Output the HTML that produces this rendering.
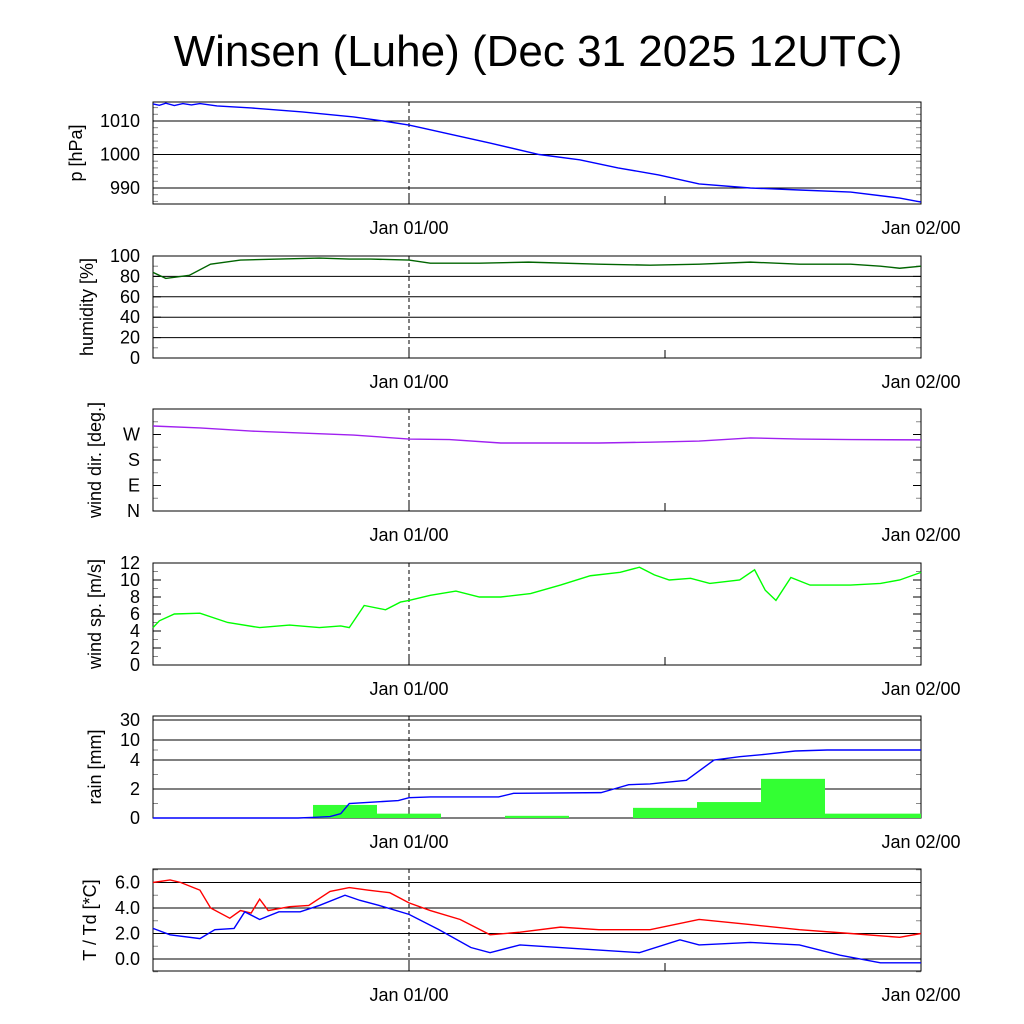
<!DOCTYPE html>
<html><head><meta charset="utf-8"><style>
html,body{margin:0;padding:0;background:#fff;}
svg{display:block;font-family:"Liberation Sans",sans-serif;}
</style></head><body>
<svg id="c" width="1024" height="1024" viewBox="0 0 1024 1024">
<text x="538" y="66" font-size="44" text-anchor="middle">Winsen (Luhe) (Dec 31 2025 12UTC)</text>
</svg>
<script>
// time in hours from Dec 31 12UTC
const xLabels = ["Jan 01/00", "Jan 02/00"];
const xLabelHours = [12, 36];
const pHours = [0,0.3,0.6,1,1.4,1.8,2.2,3,4.6,7,9.4,10.8,12,13.9,15.8,18.1,20,21.8,23.7,25.6,28,30.3,32.7,35,36];
const pVals = [1015.1,1014.7,1015.3,1014.6,1015.2,1014.8,1015.2,1014.5,1013.9,1012.7,1011.2,1010,1008.8,1006.1,1003.4,1000,998.4,996,993.9,991.2,990,989.4,988.8,987,985.8];
const hHours = [0,0.6,1.7,2.7,4.1,5.9,7.8,9.2,10.2,12,13,15.3,17.6,20.9,23.3,25.6,28,30.3,32.7,34.1,35,36];
const hVals = [84,78,81,92,96,97,98,97,97,96,93,93,94,92,91,92,94,92,92,90,88,90];
const dHours = [0,2.2,4.6,7,9.4,12,13.9,16.3,20.9,23.3,25.6,28,30.3,32.7,36];
const dVals = [300,293,282,275,268,254,252,240,240,243,247,258,254,252,251];
const wHours = [0,0.3,1,2.2,3.5,5,6.4,7.8,8.8,9.2,9.9,10.9,11.6,12,13,14.2,15.3,16.3,17.7,19.1,20.5,21.9,22.8,23.5,24.2,25.2,26.1,27.5,28.2,28.7,29.2,29.9,30.8,32.7,34.1,35,36];
const wVals = [4.4,5.2,6,6.1,5,4.4,4.7,4.4,4.6,4.4,7,6.5,7.4,7.6,8.2,8.7,8,8,8.4,9.4,10.5,10.9,11.5,10.6,10,10.2,9.6,10,11.2,8.8,7.6,10.3,9.4,9.4,9.6,10,10.9];
const rainBarHours = [9,12,15,18,21,24,27,30,33,36];
const rainBarWidths = [3,3,3,3,3,3,3,3,3,1.5];
const rainBarVals = [0.9,0.3,0,0.15,0,0.7,1.1,2.7,0.3,0.3];
const rHours = [0,6.8,7.6,8.3,8.8,9.2,11.5,12,13,16.2,16.9,21,21.6,22.3,23.3,25,26.3,27.5,28.7,30.1,31.6,36];
const rVals = [0,0,0.05,0.1,0.3,1.0,1.2,1.4,1.45,1.45,1.7,1.75,2.0,2.3,2.35,2.6,4,5,5.7,6.7,7,7];
const tHours = [0,0.8,1.3,2.2,2.7,3.6,4.1,4.6,5,5.4,6.4,7.3,8.3,9.2,10.1,11.1,12,13,14.4,15.8,17.2,19.1,20.9,23.3,25.6,28,30.3,32.7,35,36];
const tVals = [6.0,6.2,6.0,5.4,4.0,3.2,3.8,3.6,4.7,3.8,4.1,4.2,5.3,5.6,5.4,5.2,4.4,3.8,3.1,1.9,2.1,2.5,2.3,2.3,3.1,2.7,2.3,2.0,1.7,2.0];
const tdHours = [0,0.8,2.2,2.9,3.8,4.3,5,5.9,6.9,7.8,9,9.7,10.6,12,13.4,14.9,15.8,17.2,19.1,20.9,22.8,24.7,25.6,28,30.3,32.2,34.1,36];
const tdVals = [2.4,1.9,1.6,2.3,2.4,3.7,3.1,3.7,3.7,4.2,5.0,4.6,4.2,3.5,2.3,0.9,0.5,1.1,0.9,0.7,0.5,1.5,1.1,1.3,1.1,0.3,-0.3,-0.3];

const NS="http://www.w3.org/2000/svg";
const svg=document.getElementById('c');
const X0=153,X1=921;
const xs=h=>X0+(h/36)*(X1-X0);
function mk(tag,attrs,parent){const e=document.createElementNS(NS,tag);for(const k in attrs)e.setAttribute(k,attrs[k]);(parent||svg).appendChild(e);return e;}

function panel(name,top,bottom,yfun,ticks,labels,grid,ylabel,minor,tx0){
  const g=mk('g',{});
  
  
  if(grid){ticks.forEach(t=>{const y=yfun(t);const l=mk('line',{x1:X0,x2:X1,y1:y,y2:y,stroke:'#000','stroke-width':1},g);
    });}
  minor.forEach(v=>{const y=yfun(v);mk('line',{x1:X0,x2:X0+5,y1:y,y2:y,stroke:'#888'},g);mk('line',{x1:X1-5,x2:X1,y1:y,y2:y,stroke:'#888'},g);});
  ticks.forEach((t,i)=>{const y=yfun(t);
    mk('line',{x1:X0,x2:X0+8,y1:y,y2:y,stroke:'#000'},g);mk('line',{x1:X1-8,x2:X1,y1:y,y2:y,stroke:'#000'},g);
    const tx=mk('text',{x:140,y:y+6,'font-size':18,'text-anchor':'end'},g);tx.textContent=labels[i];
    });
  const d=mk('line',{x1:xs(12),x2:xs(12),y1:top,y2:bottom,stroke:'#000','stroke-dasharray':'4,3'},g);
  
  mk('line',{x1:xs(12),x2:xs(12),y1:bottom-8,y2:bottom,stroke:'#000'},g);
  mk('line',{x1:xs(24),x2:xs(24),y1:bottom-8,y2:bottom,stroke:'#000'},g);
  const r=mk('rect',{x:X0,y:top,width:X1-X0,height:bottom-top,fill:'none',stroke:'#000','stroke-width':1},g);
  
  xLabels.forEach((s,i)=>{const t=mk('text',{x:xs(xLabelHours[i]),y:bottom+30,'font-size':18,'text-anchor':'middle'},g);t.textContent=s;
    });
  const cy=(top+bottom)/2;
  const yl=mk('text',{x:tx0,y:cy,'font-size':18,'text-anchor':'middle',transform:`rotate(-90 ${tx0} ${cy})`},g);yl.textContent=ylabel;
  
  return g;
}
function line(g,name,hs,vs,yfun,color){
  const p=mk('polyline',{points:hs.map((h,i)=>xs(h)+','+yfun(vs[i])).join(' '),fill:'none',stroke:color,'stroke-width':1.4},g);
  
}
const range=(a,b,s)=>{const r=[];for(let v=a;v<=b+1e-9;v+=s)r.push(v);return r;};

const yP=v=>121+(1010-v)*3.35;
let g=panel('pressure',102,204,yP,[990,1000,1010],['990','1000','1010'],true,'p [hPa]',range(986,1014,2),82);
line(g,'pressure-line',pHours,pVals,yP,'#0000ff');
const yH=v=>358-v*1.02;
g=panel('humidity',256,358,yH,[0,20,40,60,80,100],['0','20','40','60','80','100'],true,'humidity [%]',range(10,90,20),93);
line(g,'humidity-line',hHours,hVals,yH,'#006400');
const yD=v=>511-v/90*25.5;
g=panel('wind-dir',409,511,yD,[0,90,180,270],['N','E','S','W'],false,'wind dir. [deg.]',[45,135,225,315],101);
line(g,'wind-direction-line',dHours,dVals,yD,'#a020f0');
const yW=v=>665-v*8.5;
g=panel('wind-speed',563,665,yW,[0,2,4,6,8,10,12],['0','2','4','6','8','10','12'],false,'wind sp. [m/s]',range(1,11,2),101);
line(g,'wind-speed-line',wHours,wVals,yW,'#00ff00');
const rK=[0,2,4,10,30],rY=[818,789,760,740,720];
const yR=v=>{for(let i=1;i<rK.length;i++){if(v<=rK[i])return rY[i-1]+(v-rK[i-1])/(rK[i]-rK[i-1])*(rY[i]-rY[i-1]);}return 716;};
g=panel('rain',716,818,yR,[0,2,4,10,30],['0','2','4','10','30'],true,'rain [mm]',[1,3,7],101);
rainBarHours.forEach((h,i)=>{const w=rainBarWidths[i];const x0=xs(h-1.5),x1=Math.min(X1,xs(h-1.5+w));const y=yR(rainBarVals[i]);
  const b=mk('rect',{x:x0,y:y,width:x1-x0,height:818-y,fill:'#33ff33'},g);
  });
line(g,'cumulative-rain-line',rHours,rVals,yR,'#0000ff');
const yT=v=>959-v*12.75;
g=panel('temperature',869,971,yT,[0,2,4,6],['0.0','2.0','4.0','6.0'],true,'T / Td [*C]',[-1,1,3,5,7],96);
line(g,'temperature-line',tHours,tVals,yT,'#ff0000');
line(g,'dewpoint-line',tdHours,tdVals,yT,'#0000ff');
</script>
</body></html>
